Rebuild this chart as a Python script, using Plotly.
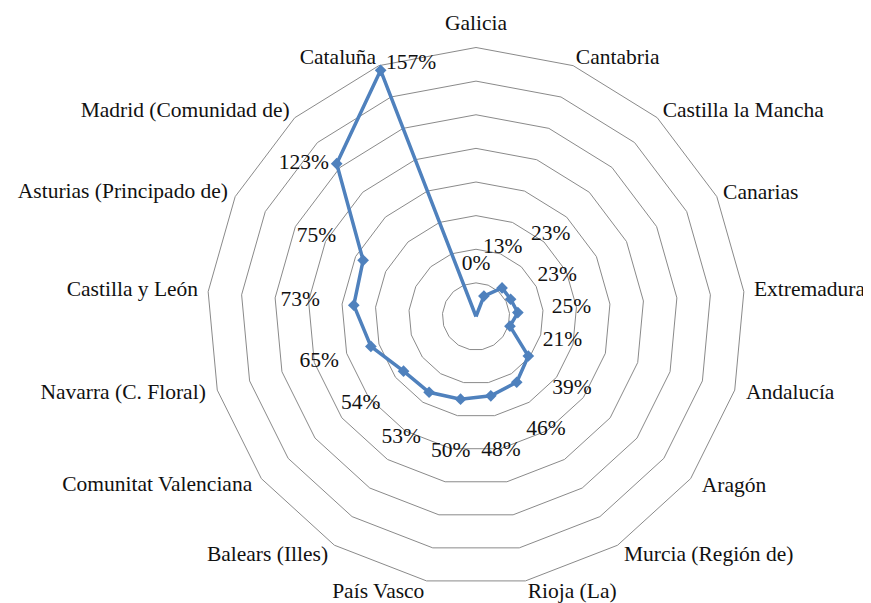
import plotly.graph_objects as go

categories = ["Galicia", "Cantabria", "Castilla la Mancha", "Canarias", "Extremadura",
              "Andalucía", "Aragón", "Murcia (Región de)", "Rioja (La)", "País Vasco",
              "Balears (Illes)", "Comunitat Valenciana", "Navarra (C. Floral)",
              "Castilla y León", "Asturias (Principado de)", "Madrid (Comunidad de)", "Cataluña"]
values = [0, 13, 23, 23, 25, 21, 39, 46, 48, 50, 53, 54, 65, 73, 75, 123, 157]
grid_ticks = [20, 40, 60, 80, 100, 120, 140, 160]

# data label placement (radius in axis units, text anchor)
label_r = [30.6, 44, 66, 54, 57, 53.5, 71.5, 79, 81, 82, 84.5, 86, 97, 105, 106, 123, 161]
label_pos = ["middle center"] * 15 + ["middle left", "middle right"]

# category label placement (radius in axis units, text anchor)
cat_r = [167.1, 164.4, 164.8, 164.2, 166, 167, 168.3, 167.1, 167.2,
         167.2, 167.1, 166.8, 167.1, 166, 164.8, 164.5, 164.4]
cat_pos = ["top center"] + ["middle right"] * 8 + ["middle left"] * 8

FONT = "Liberation Serif"
BLUE = "#4F81BD"
GRID = "#8A8A8A"
RMAX = 170

fig = go.Figure()
fig.add_trace(go.Scatterpolar(
    r=values + values[:1], theta=categories + categories[:1],
    mode="lines+markers",
    line=dict(color=BLUE, width=3.5),
    marker=dict(symbol="diamond", size=9, color=BLUE),
    hoverinfo="skip", showlegend=False,
))
fig.add_trace(go.Scatterpolar(
    r=label_r, theta=categories,
    mode="markers+text",
    text=[f"{v}%" for v in values],
    textposition=label_pos,
    textfont=dict(family=FONT, size=21.5, color="#111111"),
    marker=dict(size=11, color="rgba(0,0,0,0)"),
    cliponaxis=False,
    hoverinfo="skip", showlegend=False,
))
fig.add_trace(go.Scatterpolar(
    r=cat_r, theta=categories,
    mode="text",
    text=categories,
    textposition=cat_pos,
    textfont=dict(family=FONT, size=21.5, color="#111111"),
    cliponaxis=False,
    hoverinfo="skip", showlegend=False,
))

# page body has an 8px margin: size the figure to the remaining area
OFF = 8
W, H = 871 - OFF, 603 - OFF
cx, cy = 476 - OFF, 316.5 - OFF
R = 269 * RMAX / 160
fig.update_layout(
    width=W, height=H,
    margin=dict(l=0, r=0, t=0, b=0),
    paper_bgcolor="white",
    showlegend=False,
    polar=dict(
        domain=dict(x=[(cx - R) / W, (cx + R) / W],
                    y=[(H - cy - R) / H, (H - cy + R) / H]),
        bgcolor="rgba(0,0,0,0)",
        gridshape="linear",
        radialaxis=dict(range=[0, RMAX], tickvals=grid_ticks, showticklabels=False,
                        ticks="", showline=False, gridcolor=GRID, gridwidth=1),
        angularaxis=dict(direction="clockwise", rotation=90, showgrid=False,
                         showline=False, showticklabels=False, ticks=""),
    ),
)
fig.write_html("out.html")
